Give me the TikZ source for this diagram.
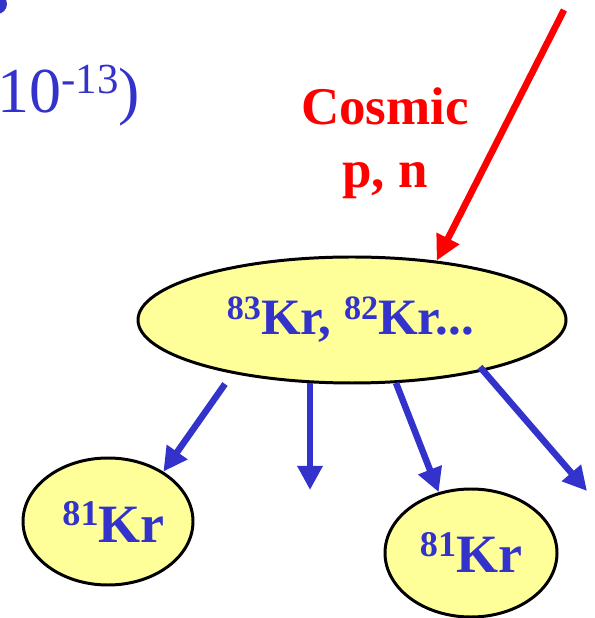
\documentclass[tikz,border=0pt]{standalone}
\usepackage{fontspec}
\setmainfont{Liberation Serif}
\usepackage{tkz-euclide}
\usetikzlibrary{arrows.meta,shapes.geometric}
\definecolor{krblue}{RGB}{51,51,204}
\definecolor{kryellow}{RGB}{255,255,153}
\newcommand{\massno}[1]{\raisebox{0.31em}{\fontsize{0.67em}{0.67em}\selectfont #1}}

\begin{document}
\begin{tikzpicture}[
        nucl/.style={ellipse, draw=black, line width=0.85pt, fill=kryellow, inner sep=0pt},
        decay/.style={-{Triangle[length=0.24cm,width=0.24cm]}, krblue, line width=0.065cm},
        ray/.style={-{Triangle[length=0.25cm,width=0.24cm]}, red, line width=0.067cm},
        lbl/.style={text=krblue, font=\bfseries}]
            \useasboundingbox (0,0) rectangle (5.94,6.18);
            \tkzDefPoints{3.52/2.98/K_p, 1.08/0.965/K_l, 4.71/0.65/K_r}
            \tkzDefPoints{2.25/2.34/d_a, 3.10/2.35/d_b, 3.10/1.28/d_b_x, 3.96/2.35/d_c}
            \tkzDefPoints{4.80/2.51/d_d, 5.87/1.27/d_d_x, 5.64/6.08/c_r}

            % cut-off mark, top left
            \begin{scope}
                \clip (0,0) rectangle (5.94,6.18);
                \fill[krblue] (-0.03,6.14) circle (0.10);
            \end{scope}
            \node[anchor=base west, inner xsep=0pt, text=krblue, font=\fontsize{0.64cm}{0.64cm}\selectfont]
                (ratio) at (-0.03,5.05) {10\massno{-13})};

            %%%%%%%%%%%%%%%%%%%%
            \node[nucl, minimum width=4.28cm, minimum height=1.26cm] (kr_p) at (K_p) {};
            \node[nucl, minimum width=1.70cm, minimum height=1.27cm] (kr_l) at (K_l) {};
            \node[nucl, minimum width=1.72cm, minimum height=1.28cm] (kr_r) at (K_r) {};

            \node[lbl, font=\bfseries\fontsize{0.51cm}{0.51cm}\selectfont, anchor=base]
                (t_p) at ([xshift=-0.015cm, yshift=-0.15cm]K_p) {\massno{83}Kr, \massno{82}Kr...};
            \node[lbl, font=\bfseries\fontsize{0.54cm}{0.54cm}\selectfont, anchor=base]
                (t_l) at ([xshift=0.055cm, yshift=-0.205cm]K_l) {\massno{81}Kr};
            \node[lbl, font=\bfseries\fontsize{0.54cm}{0.54cm}\selectfont, anchor=base]
                (t_r) at ([yshift=-0.20cm]K_r) {\massno{81}Kr};

            \node[anchor=base, align=center, text=red, font=\bfseries\fontsize{0.53cm}{0.63cm}\selectfont]
                (cosmic) at (3.85,4.30) {Cosmic\\p, n};

            \draw[ray] (c_r) -- (kr_p.35);

            \draw[decay] (d_a) -- (kr_l.42);
            \draw[decay] (d_b) -- (d_b_x);
            \draw[decay] (d_c) -- (kr_r.118);
            \draw[decay] (d_d) -- (d_d_x);
        \end{tikzpicture}
\end{document}
